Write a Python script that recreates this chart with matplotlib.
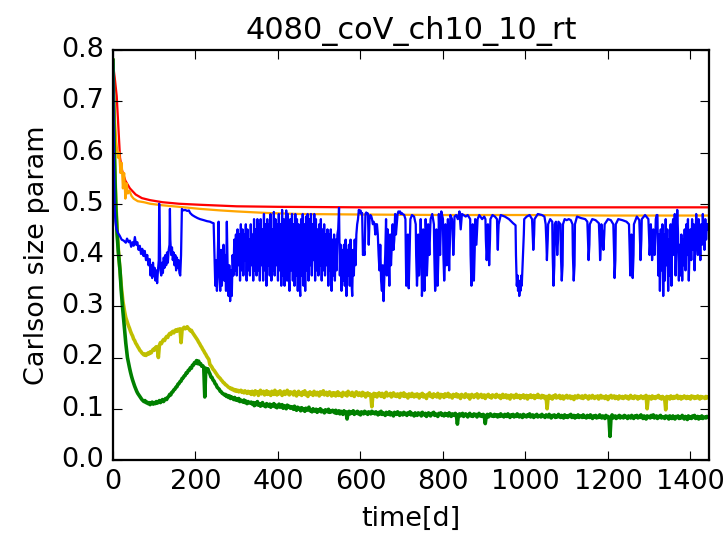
import numpy as np
import matplotlib
matplotlib.use("Agg")
import matplotlib.pyplot as plt

plt.style.use("classic")
plt.rcParams["path.simplify"] = False

title = "4080_coV_ch10_10_rt"
xlabel = "time[d]"
ylabel = "Carlson size param"
xticks = [0, 200, 400, 600, 800, 1000, 1200, 1400]
yticks = [0.0, 0.1, 0.2, 0.3, 0.4, 0.5, 0.6, 0.7, 0.8]
t_end = 1445

# red series (smooth)
red_t = [0, 2, 5, 9, 13, 17, 22, 30, 41, 55, 70, 90, 120, 160, 211, 300, 400, 600, 800, 1000, 1200, 1445]
red_v = [0.78, 0.76, 0.74, 0.71, 0.65, 0.59, 0.565, 0.545, 0.53, 0.518, 0.511, 0.507, 0.503, 0.5, 0.498,
         0.495, 0.494, 0.493, 0.493, 0.493, 0.493, 0.493]

# orange series
orange_t = [0, 2, 5, 8, 12, 15, 18, 21, 24, 27, 30, 33, 36, 40, 45, 50, 60, 75, 90, 120, 160, 211, 260,
            300, 373, 450, 600, 800, 1000, 1200, 1445]
orange_v = [0.78, 0.72, 0.66, 0.62, 0.59, 0.6, 0.56, 0.58, 0.53, 0.56, 0.51, 0.54, 0.52, 0.525, 0.515,
            0.51, 0.505, 0.503, 0.5, 0.497, 0.494, 0.49, 0.487, 0.485, 0.482, 0.48, 0.479, 0.478, 0.478,
            0.477, 0.477]

# blue series: (t, value) pairs for sparse stretches
blue_a = [(0, 0.78), (1, 0.70), (2, 0.60), (3, 0.53), (4, 0.49), (6, 0.465), (8, 0.452), (12, 0.443),
          (16, 0.438), (21, 0.43), (26, 0.428), (31, 0.424), (34, 0.432), (38, 0.425), (41, 0.428),
          (44, 0.416), (47, 0.425), (50, 0.418), (53, 0.435), (56, 0.42), (59, 0.425), (62, 0.41),
          (65, 0.418), (68, 0.402), (71, 0.412), (74, 0.398), (77, 0.408), (80, 0.39), (83, 0.40),
          (86, 0.38), (89, 0.392), (91, 0.36), (93, 0.38), (95, 0.355), (97, 0.385), (99, 0.36),
          (101, 0.375), (103, 0.35), (105, 0.37), (107, 0.345), (109, 0.37), (111, 0.39), (112, 0.50),
          (113, 0.45), (115, 0.37), (117, 0.36), (119, 0.385), (121, 0.365), (123, 0.395), (125, 0.375),
          (127, 0.40), (129, 0.38), (131, 0.405), (133, 0.385), (135, 0.41), (137, 0.42), (138, 0.49),
          (139, 0.43), (141, 0.40), (143, 0.415), (145, 0.39), (147, 0.405), (149, 0.38), (151, 0.40),
          (153, 0.37), (155, 0.395), (157, 0.375), (159, 0.39), (161, 0.365), (163, 0.36), (165, 0.40),
          (167, 0.49), (170, 0.487), (175, 0.488), (180, 0.486), (184, 0.487), (187, 0.482),
          (192, 0.478), (198, 0.475), (205, 0.472), (211, 0.470), (220, 0.468), (228, 0.466),
          (235, 0.465), (240, 0.463), (244, 0.462), (246, 0.40)]

# blue dense stretches sampled every 2 days
blue_dense_step = 2
blue_dense1_start = 248
blue_dense1 = [
    0.34, 0.39, 0.33, 0.40, 0.465, 0.36, 0.33, 0.41, 0.34, 0.39, 0.42, 0.35, 0.40, 0.33, 0.465, 0.37, 0.32, 0.38, 0.31, 0.37, 0.32, 0.40, 0.36, 0.43, 0.37,
    0.44, 0.36, 0.45, 0.38, 0.44, 0.35, 0.46, 0.37, 0.45, 0.36, 0.44, 0.39, 0.46, 0.35, 0.45, 0.37, 0.43, 0.36, 0.46, 0.38, 0.44, 0.35, 0.47, 0.37, 0.45,
    0.36, 0.47, 0.37, 0.46, 0.35, 0.47, 0.38, 0.45, 0.35, 0.48, 0.37, 0.46, 0.34, 0.47, 0.38, 0.46, 0.36, 0.48, 0.35, 0.45, 0.37, 0.484, 0.36, 0.47, 0.38,
    0.46, 0.35, 0.48, 0.37, 0.46, 0.34, 0.488, 0.36, 0.47, 0.34, 0.45, 0.487, 0.35, 0.48, 0.36, 0.33, 0.47, 0.37, 0.48, 0.35, 0.46, 0.34, 0.48, 0.36, 0.47,
    0.33, 0.46, 0.35, 0.32, 0.47, 0.36, 0.48, 0.34, 0.46, 0.33, 0.475, 0.37, 0.48, 0.35, 0.47, 0.38, 0.48, 0.36, 0.46, 0.39, 0.48, 0.35, 0.47, 0.37, 0.45,
    0.36, 0.46, 0.38, 0.47, 0.35, 0.45, 0.37, 0.46, 0.36, 0.44, 0.38, 0.45, 0.34, 0.44, 0.37, 0.45, 0.33, 0.43, 0.36, 0.44, 0.35, 0.43, 0.37, 0.44, 0.45,
    0.492, 0.36, 0.42, 0.33, 0.41, 0.35, 0.42, 0.34, 0.43, 0.32, 0.41, 0.36, 0.42, 0.34, 0.43, 0.35, 0.32, 0.41, 0.36, 0.43, 0.38, 0.44, 0.46, 0.47, 0.488,
    0.483, 0.487, 0.48, 0.482, 0.40, 0.41, 0.40, 0.48, 0.483, 0.48, 0.481, 0.42, 0.47, 0.478, 0.476, 0.47, 0.46, 0.465, 0.46, 0.44, 0.46]

blue_dense2_start = 640
blue_dense2 = [
    0.46, 0.44, 0.40, 0.37, 0.42, 0.35, 0.33, 0.38, 0.31, 0.36, 0.40, 0.47, 0.36, 0.45, 0.40, 0.34, 0.44, 0.38, 0.42, 0.46,
    0.41, 0.43, 0.48, 0.44, 0.46, 0.48, 0.485, 0.483, 0.485, 0.48, 0.482]

blue_c = [(702, 0.48), (706, 0.478), (709, 0.47), (710, 0.40), (711, 0.34), (713, 0.36), (715, 0.44), (717, 0.335),
          (719, 0.40), (721, 0.47), (725, 0.478), (730, 0.475), (734, 0.46), (735, 0.40), (737, 0.34), (739, 0.38),
          (740, 0.44), (742, 0.36), (744, 0.40), (746, 0.47), (748, 0.40), (749, 0.32), (751, 0.36), (752, 0.45),
          (754, 0.38), (755, 0.33), (757, 0.40), (758, 0.47), (760, 0.42), (761, 0.36), (763, 0.40), (764, 0.46),
          (766, 0.42), (767, 0.40), (769, 0.45), (770, 0.47), (774, 0.48), (778, 0.46), (779, 0.40), (781, 0.33),
          (783, 0.36), (784, 0.45), (786, 0.38), (787, 0.34), (789, 0.40), (790, 0.48), (792, 0.43), (793, 0.40),
          (796, 0.485), (800, 0.47), (801, 0.40), (803, 0.35), (805, 0.39), (806, 0.46), (808, 0.42), (809, 0.38),
          (811, 0.42), (812, 0.47), (814, 0.40), (815, 0.37), (817, 0.43), (818, 0.478), (822, 0.47), (824, 0.43),
          (825, 0.40), (827, 0.44), (828, 0.475), (832, 0.478), (836, 0.47), (840, 0.485), (843, 0.45), (846, 0.48),
          (850, 0.478), (855, 0.475), (860, 0.478), (866, 0.47), (867, 0.40), (869, 0.34), (871, 0.38), (872, 0.46),
          (874, 0.40), (875, 0.35), (877, 0.41), (878, 0.47), (881, 0.42), (884, 0.47), (888, 0.478), (895, 0.47),
          (900, 0.475), (903, 0.47), (904, 0.43), (906, 0.39), (908, 0.42), (909, 0.46), (911, 0.41), (912, 0.38),
          (914, 0.43), (915, 0.47), (920, 0.478), (926, 0.475), (931, 0.47), (932, 0.43), (933, 0.41), (934, 0.44),
          (935, 0.46), (940, 0.478), (950, 0.475), (960, 0.47), (970, 0.462), (976, 0.458), (977, 0.40), (979, 0.34),
          (981, 0.36), (982, 0.33), (984, 0.35), (985, 0.32), (987, 0.34), (988, 0.33), (990, 0.36), (991, 0.34),
          (993, 0.38), (994, 0.40), (996, 0.44), (997, 0.47), (1003, 0.475), (1010, 0.478), (1016, 0.47),
          (1018, 0.43), (1019, 0.41), (1021, 0.44), (1022, 0.47), (1030, 0.48), (1040, 0.478), (1046, 0.475)]
blue_d = [(1049, 0.46), (1051, 0.42), (1052, 0.39), (1054, 0.43), (1055, 0.46), (1060, 0.47), (1065, 0.465),
          (1066, 0.40), (1068, 0.34), (1070, 0.38), (1071, 0.46), (1074, 0.465), (1076, 0.42), (1077, 0.40),
          (1079, 0.43), (1080, 0.465), (1085, 0.46), (1086, 0.40), (1088, 0.35), (1090, 0.38), (1091, 0.46),
          (1095, 0.47), (1100, 0.468), (1105, 0.47), (1110, 0.468), (1114, 0.46), (1115, 0.40), (1117, 0.35),
          (1119, 0.38), (1120, 0.46), (1125, 0.475), (1135, 0.472), (1145, 0.47), (1150, 0.465), (1152, 0.42),
          (1153, 0.39), (1155, 0.42), (1156, 0.46), (1162, 0.47), (1170, 0.468), (1178, 0.462), (1180, 0.42),
          (1181, 0.39), (1183, 0.42), (1184, 0.46), (1187, 0.44), (1189, 0.41), (1191, 0.44), (1192, 0.46),
          (1200, 0.47), (1207, 0.468), (1213, 0.46), (1215, 0.40), (1216, 0.355), (1218, 0.39), (1219, 0.46),
          (1225, 0.47), (1235, 0.468), (1245, 0.465), (1251, 0.46), (1253, 0.40), (1254, 0.36), (1256, 0.40),
          (1257, 0.44), (1259, 0.38), (1260, 0.355), (1262, 0.40), (1263, 0.46), (1270, 0.475), (1276, 0.468),
          (1278, 0.42), (1279, 0.39), (1281, 0.43), (1282, 0.47), (1290, 0.478), (1298, 0.47), (1300, 0.43),
          (1301, 0.40), (1303, 0.43), (1304, 0.46), (1306, 0.42), (1307, 0.39), (1309, 0.42), (1310, 0.45),
          (1312, 0.42), (1313, 0.40), (1315, 0.44), (1316, 0.47), (1318, 0.478)]

blue_dense3_start = 1320
blue_dense3 = [
    0.478, 0.36, 0.44, 0.33, 0.45, 0.37, 0.46, 0.32, 0.44, 0.35, 0.47, 0.38, 0.45, 0.33, 0.43, 0.36, 0.46, 0.34, 0.45, 0.47, 0.40, 0.48, 0.36, 0.43, 0.488,
    0.44, 0.35, 0.42, 0.36, 0.44, 0.35, 0.43, 0.38, 0.45, 0.37, 0.46, 0.40, 0.47, 0.35, 0.42, 0.45, 0.39, 0.47, 0.41, 0.46, 0.37, 0.42, 0.48, 0.43, 0.40,
    0.47, 0.44, 0.39, 0.46, 0.42, 0.48, 0.44, 0.41, 0.47, 0.43, 0.46, 0.45, 0.46]

# yellow / green: early points, then samples every 2.5 days from day 35 (values in thousandths)
main_start, main_step = 35, 2.5

yellow_early_t = [0, 1, 2, 3, 5, 7, 10, 13, 17, 20, 24, 28, 31]
yellow_early_v = [0.78, 0.72, 0.66, 0.61, 0.55, 0.5, 0.45, 0.41, 0.37, 0.34, 0.31, 0.29, 0.278]
yellow_main_milli = [
    268, 262, 257, 251, 246, 242, 236, 233, 228, 225, 221, 218, 214, 212, 209, 207, 205, 207, 204, 206, 209, 207, 211, 209, 213, 216, 214, 219, 221, 218, 200, 224, 229, 227, 232, 235, 233, 238, 241, 239,
    244, 247, 245, 249, 251, 248, 252, 254, 251, 255, 253, 256, 229, 254, 257, 259, 256, 258, 260, 257, 255, 252, 253, 249, 246, 243, 240, 237, 234, 230, 227, 223, 220, 216, 213, 209, 206, 202, 199, 196,
    186, 184, 181, 177, 175, 172, 169, 166, 163, 161, 159, 156, 154, 151, 150, 147, 146, 144, 142, 141, 139, 140, 137, 138, 135, 137, 134, 136, 133, 135, 136, 132, 134, 131, 135, 132, 130, 134, 131, 133,
    128, 134, 131, 127, 135, 130, 133, 126, 132, 136, 129, 131, 134, 127, 130, 135, 128, 133, 130, 126, 134, 131, 128, 136, 130, 127, 133, 129, 135, 131, 126, 132, 134, 128, 131, 136, 129, 127, 133, 130,
    132, 127, 134, 129, 125, 131, 134, 128, 130, 126, 133, 129, 135, 127, 131, 124, 130, 133, 128, 131, 126, 134, 129, 127, 132, 130, 125, 133, 128, 131, 135, 127, 129, 132, 126, 130, 133, 128, 125, 131,
    127, 131, 125, 129, 133, 126, 130, 128, 124, 132, 129, 127, 131, 125, 134, 128, 130, 126, 132, 127, 124, 130, 133, 128, 126, 131, 129, 125, 132, 127, 130, 123, 128, 131, 126, 129, 127, 104, 126, 130,
    125, 129, 123, 128, 131, 126, 124, 130, 127, 122, 129, 132, 125, 128, 126, 130, 123, 127, 131, 125, 128, 124, 129, 126, 122, 130, 127, 125, 131, 124, 128, 126, 121, 129, 127, 124, 130, 126, 123, 128,
    124, 129, 126, 121, 128, 125, 130, 123, 127, 125, 120, 128, 126, 131, 124, 127, 122, 129, 125, 127, 123, 130, 126, 121, 128, 125, 127, 122, 129, 124, 126, 130, 123, 127, 125, 121, 128, 126, 124, 129,
    123, 127, 125, 120, 128, 124, 126, 122, 129, 125, 123, 127, 119, 126, 128, 124, 122, 127, 125, 129, 121, 126, 124, 128, 122, 125, 127, 120, 126, 124, 128, 123, 125, 121, 127, 124, 126, 122, 128, 125,
    123, 126, 120, 125, 128, 122, 124, 127, 121, 126, 123, 119, 127, 124, 126, 121, 125, 128, 122, 124, 126, 120, 125, 123, 127, 121, 124, 126, 119, 125, 123, 127, 122, 124, 126, 120, 125, 123, 128, 122,
    124, 121, 126, 122, 125, 120, 124, 100, 123, 126, 121, 124, 119, 125, 122, 127, 121, 124, 122, 126, 120, 123, 125, 119, 124, 122, 126, 121, 123, 125, 120, 124, 122, 118, 125, 123, 121, 126, 122, 124,
    121, 125, 120, 123, 126, 122, 124, 119, 125, 122, 121, 126, 123, 120, 124, 122, 125, 119, 123, 126, 121, 124, 122, 120, 125, 123, 118, 124, 122, 126, 121, 123, 125, 120, 124, 122, 119, 125, 123, 121,
    124, 120, 123, 125, 121, 124, 119, 122, 126, 121, 123, 120, 125, 122, 124, 119, 123, 121, 125, 122, 120, 124, 122, 126, 100, 121, 124, 122, 119, 125, 121, 123, 120, 124, 122, 126, 121, 123, 119, 124,
    122, 120, 98, 124, 121, 123, 119, 125, 122, 120, 124, 121, 123, 126, 120, 122, 124, 119, 123, 121, 125, 122, 120, 124, 121, 123, 119, 125, 122, 124, 120, 123, 121, 125, 122, 119, 124, 121, 123, 122,
    120, 124, 121, 123, 122]

green_early_t = [0, 1, 2, 3, 5, 7, 10, 13, 17, 20, 24, 28, 31]
green_early_v = [0.78, 0.72, 0.66, 0.61, 0.54, 0.49, 0.44, 0.405, 0.37, 0.33, 0.29, 0.255, 0.228]
green_main_milli = [
    200, 190, 180, 171, 163, 156, 150, 144, 139, 134, 130, 127, 124, 121, 118, 116, 114, 116, 112, 113, 110, 112, 108, 111, 113, 109, 112, 110, 114, 111, 113, 116, 112, 115, 118, 114, 117, 120, 118, 122,
    124, 128, 127, 132, 133, 137, 138, 142, 143, 148, 149, 153, 154, 159, 160, 164, 165, 170, 170, 175, 175, 180, 179, 185, 185, 190, 189, 194, 188, 193, 187, 188, 183, 184, 181, 123, 179, 176, 178, 172,
    168, 162, 161, 156, 154, 149, 147, 142, 140, 138, 134, 133, 130, 129, 127, 128, 124, 126, 122, 125, 120, 123, 121, 118, 122, 117, 119, 116, 120, 114, 117, 115, 113, 117, 112, 115, 110, 114, 112, 111,
    113, 109, 112, 106, 111, 108, 114, 107, 110, 105, 109, 112, 106, 108, 104, 110, 107, 105, 109, 103, 108, 106, 110, 104, 107, 102, 106, 109, 103, 105, 108, 101, 106, 104, 100, 107, 103, 105, 101, 104,
    103, 99, 105, 100, 97, 103, 99, 101, 96, 102, 98, 100, 95, 101, 97, 99, 103, 96, 98, 94, 100, 97, 95, 99, 93, 98, 96, 100, 94, 97, 95, 92, 98, 96, 94, 99, 93, 96, 94, 97,
    95, 92, 97, 91, 94, 96, 90, 95, 93, 89, 96, 92, 94, 80, 93, 95, 90, 94, 92, 96, 89, 93, 91, 95, 90, 93, 88, 94, 92, 90, 95, 91, 93, 89, 94, 92, 90, 95, 91, 93,
    90, 94, 91, 88, 93, 90, 95, 89, 92, 90, 87, 93, 91, 89, 94, 88, 92, 90, 86, 93, 91, 89, 94, 90, 87, 92, 90, 88, 93, 89, 91, 87, 92, 90, 94, 88, 91, 89, 86, 92,
    90, 87, 92, 89, 91, 86, 93, 89, 88, 91, 85, 90, 92, 88, 86, 91, 89, 93, 87, 90, 88, 85, 91, 89, 92, 87, 89, 86, 91, 88, 90, 86, 92, 88, 85, 90, 89, 87, 91, 88,
    70, 88, 90, 86, 89, 91, 85, 88, 90, 87, 84, 89, 91, 86, 88, 85, 90, 87, 89, 84, 88, 91, 86, 88, 85, 89, 87, 71, 86, 89, 84, 88, 90, 86, 87, 85, 89, 86, 88, 84,
    88, 85, 90, 86, 87, 84, 89, 87, 85, 90, 86, 83, 88, 86, 89, 84, 87, 85, 90, 86, 84, 88, 86, 83, 89, 85, 87, 84, 88, 86, 90, 84, 86, 88, 83, 87, 85, 89, 84, 86,
    87, 84, 89, 85, 86, 83, 88, 86, 84, 89, 85, 82, 87, 85, 88, 83, 86, 84, 89, 85, 83, 87, 85, 82, 88, 84, 86, 83, 87, 85, 89, 83, 85, 87, 82, 86, 84, 88, 83, 86,
    86, 83, 88, 84, 85, 82, 87, 85, 83, 88, 84, 81, 86, 84, 87, 82, 85, 83, 88, 84, 82, 86, 84, 81, 87, 83, 85, 82, 46, 84, 88, 82, 84, 86, 81, 85, 83, 87, 82, 85,
    85, 82, 87, 84, 85, 81, 86, 84, 82, 87, 83, 81, 86, 84, 87, 82, 85, 83, 88, 84, 81, 86, 84, 80, 86, 83, 85, 82, 87, 84, 88, 82, 84, 86, 81, 85, 83, 87, 82, 84,
    84, 81, 86, 83, 85, 80, 86, 83, 81, 86, 82, 80, 85, 83, 86, 81, 84, 82, 87, 83, 80, 85, 83, 79, 86, 82, 84, 81, 86, 83, 87, 81, 83, 85, 80, 84, 82, 86, 81, 83,
    84, 82, 85, 83, 84]


def series(early_t, early_v, main_milli):
    t = list(early_t) + [main_start + main_step * i for i in range(len(main_milli))]
    v = list(early_v) + [m / 1000.0 for m in main_milli]
    return t, v


def pairs(pts):
    return [p[0] for p in pts], [p[1] for p in pts]


def block(start, vals):
    return [start + blue_dense_step * i for i in range(len(vals))], list(vals)


yellow_t, yellow_v = series(yellow_early_t, yellow_early_v, yellow_main_milli)
green_t, green_v = series(green_early_t, green_early_v, green_main_milli)

blue_t, blue_v = [], []
for seg_t, seg_v in [pairs(blue_a), block(blue_dense1_start, blue_dense1),
                     block(blue_dense2_start, blue_dense2), pairs(blue_c), pairs(blue_d),
                     block(blue_dense3_start, blue_dense3)]:
    blue_t += seg_t
    blue_v += seg_v

dpi = 162
fig = plt.figure(figsize=(728 / dpi, 538 / dpi), dpi=dpi, facecolor="white")
ax = fig.add_axes([113 / 728, 78 / 538, 596 / 728, 410 / 538])
ax.set_facecolor("white")

ax.plot(red_t, red_v, color="r")
ax.plot(orange_t, orange_v, color="orange")
ax.plot(yellow_t, yellow_v, color="y", lw=1.6)
ax.plot(green_t, green_v, color="g", lw=1.6)
ax.plot(blue_t, blue_v, color="b")

ax.set_xlim(0, t_end)
ax.set_ylim(0.0, 0.8)
ax.set_xticks(xticks)
ax.set_yticks(yticks)
ax.set_title(title, fontsize=13.5)
ax.set_xlabel(xlabel)
ax.set_ylabel(ylabel)

fig.savefig("out.png", dpi=dpi, facecolor="white")
